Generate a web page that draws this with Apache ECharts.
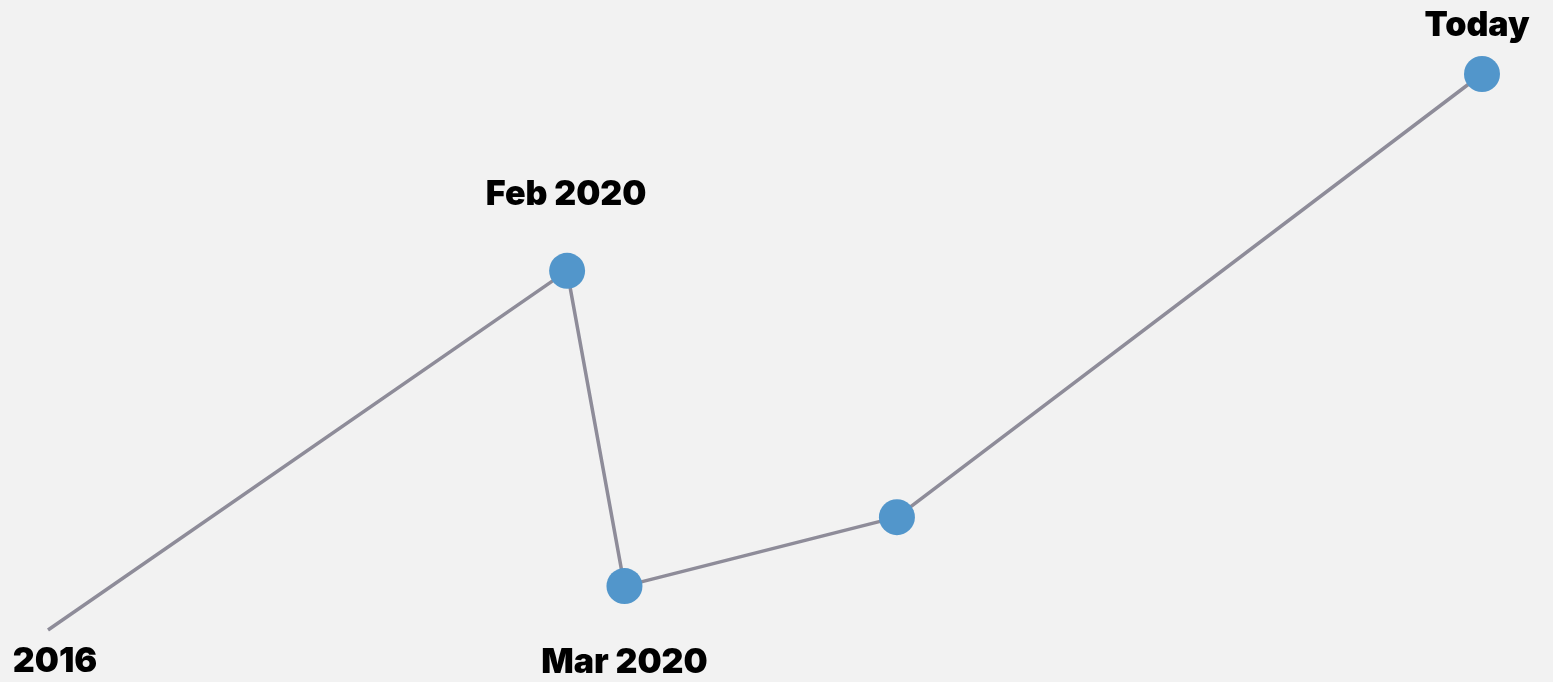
<!DOCTYPE html>
<html>
<head>
<meta charset="utf-8">
<script src="https://cdn.jsdelivr.net/npm/echarts@6/dist/echarts.min.js"></script>
<style>
  html, body { margin: 0; padding: 0; background: #f2f2f2; }
  #chart { width: 1553px; height: 682px; }
</style>
</head>
<body>
<div id="chart"></div>
<script>
// points along the timeline (x: relative position, y: relative level)
const labels = ['2016', 'Feb 2020', 'Mar 2020', '', 'Today']
const xs = [0, 36.2, 40.2, 59.2, 100]
const ys = [0, 64.6, 7.9, 20.3, 100]
const showDot = [false, true, true, true, true]

// label offsets relative to the point
const labelOffsets = [[7, 32], [-1, -76], [0, 77], [0, 0], [-5, -48]]

const chart = echarts.init(document.getElementById('chart'))

const data = xs.map((x, i) => ({
  value: [x, ys[i]],
  symbolSize: showDot[i] ? 36 : 0,
  label: {
    show: labels[i] !== '',
    formatter: labels[i],
    position: 'inside',
    offset: labelOffsets[i]
  }
}))

chart.setOption({
  backgroundColor: '#f2f2f2',
  animation: false,
  grid: { left: 48, right: 71, top: 74, bottom: 52 },
  xAxis: { type: 'value', min: 0, max: 100, show: false },
  yAxis: { type: 'value', min: 0, max: 100, show: false },
  series: [{
    type: 'line',
    data: data,
    symbol: 'circle',
    lineStyle: { color: '#8e8c99', width: 3.5 },
    itemStyle: { color: '#5296cb', borderWidth: 0 },
    label: {
      color: '#000',
      fontFamily: 'Inter',
      fontWeight: 900,
      fontSize: 34
    },
    z: 2
  }]
})
</script>
</body>
</html>
